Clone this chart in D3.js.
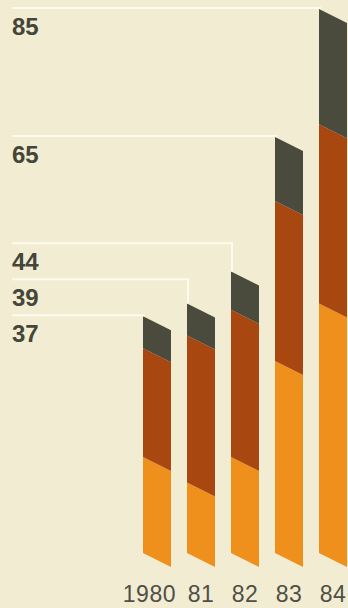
<!DOCTYPE html>
<html>
<head>
<meta charset="utf-8">
<script src="https://cdn.jsdelivr.net/npm/d3@7"></script>
<style>
  html, body { margin: 0; padding: 0; background: #f2ecd1; }
  svg { display: block; }
</style>
</head>
<body>
<svg id="chart" width="348" height="608"></svg>
<script>
// ---- data ----
const years = ["1980", "81", "82", "83", "84"];
const orange = [15, 11, 15, 30, 39];
const brown  = [17, 23, 23, 25, 28];
const dark   = [5, 5, 6, 10, 18];
const totals = [37, 39, 44, 65, 85];
const seriesKeys = ["orange", "brown", "dark"];
const colors = { orange: "#f0901c", brown: "#a8470f", dark: "#4a4a3d" };

const rows = years.map((yr, i) => ({ year: yr, orange: orange[i], brown: brown[i], dark: dark[i], total: totals[i] }));

const W = 348, H = 608;
const svg = d3.select("#chart");
svg.append("rect").attr("width", W).attr("height", H).attr("fill", "#f2edd2");

const x = d3.scaleBand().domain(years).range([143, 347]).paddingInner(16 / 44).paddingOuter(0);
const y = d3.scaleLinear().domain([0, 85]).range([553, 9]);
const shear = 14;

const stack = d3.stack().keys(seriesKeys)(rows);

const gBars = svg.append("g");
stack.forEach(layer => {
  gBars.selectAll(null).data(layer).enter().append("path")
    .attr("fill", colors[layer.key])
    .attr("d", d => {
      const x0 = x(d.data.year), x1 = x0 + x.bandwidth();
      const yt = y(d[1]), yb = y(d[0]);
      return `M${x0},${yt}L${x1},${yt + shear}L${x1},${yb + shear}L${x0},${yb}Z`;
    });
});

// ---- leader lines & value labels ----
const order = d3.range(rows.length).sort((a, b) => totals[a] - totals[b]);
let prevLine = Infinity;
const labelInfo = [];
order.forEach(i => {
  const top = y(totals[i]);
  const ly = Math.min(top - 1, prevLine - 36);
  prevLine = ly;
  labelInfo.push({ i, ly, top });
});

const gLab = svg.append("g");
labelInfo.forEach(({ i, ly, top }) => {
  const bx = x(years[i]) + 1;
  gLab.append("path")
    .attr("d", `M12,${ly}L${bx},${ly}L${bx},${top}`)
    .attr("fill", "none")
    .attr("stroke", "#fdfaee")
    .attr("stroke-width", 2);
  gLab.append("text")
    .attr("x", 12)
    .attr("y", ly + 27)
    .attr("font-family", "'Liberation Sans', Arial, sans-serif")
    .attr("font-weight", "bold")
    .attr("font-size", 24)
    .attr("fill", "#45453a")
    .text(totals[i]);
});

// ---- year axis labels ----
const gAx = svg.append("g");
years.forEach((yr, i) => {
  const cx = x(yr) + x.bandwidth() / 2;
  gAx.append("text")
    .attr("x", i === 0 ? cx + 19 : cx)
    .attr("y", 602)
    .attr("text-anchor", i === 0 ? "end" : "middle")
    .attr("font-family", "'Liberation Sans', Arial, sans-serif")
    .attr("font-size", 23)
    .attr("letter-spacing", 0.5)
    .attr("fill", "#4f4f47")
    .text(yr);
});
</script>
</body>
</html>
